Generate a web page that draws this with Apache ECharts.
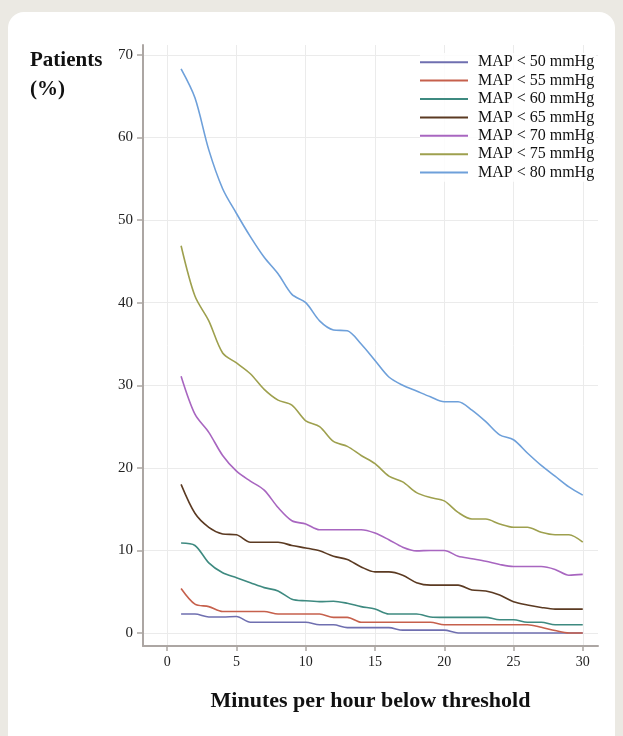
<!DOCTYPE html>
<html>
<head>
<meta charset="utf-8">
<script src="https://cdn.jsdelivr.net/npm/echarts@6/dist/echarts.min.js"></script>
<style>
  html, body { margin: 0; padding: 0; background: #ebe9e3; }
  #card {
    position: absolute; left: 8px; top: 12px; width: 607px; height: 740px;
    background: #ffffff; border-radius: 16px;
  }
  #chart { position: absolute; left: 0; top: 0; width: 623px; height: 736px; }
</style>
</head>
<body>
<div id="card"></div>
<div id="chart"></div>
<script>
// minutes per hour below threshold
const minutes = [1, 2, 3, 4, 5, 6, 7, 8, 9, 10, 11, 12, 13, 14, 15,
  16, 17, 18, 19, 20, 21, 22, 23, 24, 25, 26, 27, 28, 29, 30];

const seriesNames = ["MAP < 50 mmHg", "MAP < 55 mmHg", "MAP < 60 mmHg", "MAP < 65 mmHg",
  "MAP < 70 mmHg", "MAP < 75 mmHg", "MAP < 80 mmHg"];

const map50 = [2.3, 2.3, 1.95, 1.95, 2.0, 1.3, 1.3, 1.3, 1.3, 1.3, 1.0, 1.0, 0.65, 0.65, 0.65,
  0.65, 0.35, 0.35, 0.35, 0.35, 0, 0, 0, 0, 0, 0, 0, 0, 0, 0];
const map55 = [5.4, 3.5, 3.2, 2.6, 2.6, 2.6, 2.6, 2.3, 2.3, 2.3, 2.3, 1.9, 1.9, 1.3, 1.3,
  1.3, 1.3, 1.3, 1.3, 1.0, 1.0, 1.0, 1.0, 1.0, 1.0, 1.0, 0.7, 0.3, 0, 0];
const map60 = [10.9, 10.6, 8.5, 7.3, 6.7, 6.1, 5.5, 5.1, 4.1, 3.9, 3.8, 3.85, 3.6, 3.2, 2.9,
  2.3, 2.3, 2.3, 1.95, 1.9, 1.9, 1.9, 1.9, 1.6, 1.6, 1.3, 1.3, 1.0, 1.0, 1.0];
const map65 = [18.0, 14.5, 12.8, 12.0, 11.9, 11.0, 11.0, 11.0, 10.6, 10.3, 9.95, 9.3, 8.9, 8.0, 7.4,
  7.4, 7.0, 6.1, 5.8, 5.8, 5.8, 5.2, 5.1, 4.6, 3.8, 3.4, 3.1, 2.9, 2.9, 2.9];
const map70 = [31.1, 26.5, 24.3, 21.5, 19.6, 18.4, 17.3, 15.2, 13.6, 13.2, 12.5, 12.5, 12.5, 12.5, 12.1,
  11.3, 10.4, 9.95, 10.0, 10.0, 9.3, 9.0, 8.7, 8.3, 8.05, 8.05, 8.05, 7.7, 7.0, 7.1];
const map75 = [46.9, 40.8, 37.8, 33.9, 32.7, 31.4, 29.5, 28.2, 27.6, 25.7, 25.0, 23.2, 22.6, 21.5, 20.5,
  19.0, 18.3, 17.0, 16.4, 16.0, 14.6, 13.8, 13.8, 13.2, 12.8, 12.8, 12.2, 11.9, 11.9, 11.0];
const map80 = [68.3, 64.8, 58.5, 53.8, 50.8, 48.0, 45.5, 43.5, 41.0, 40.0, 37.8, 36.7, 36.6, 35.0, 33.0,
  31.0, 30.0, 29.3, 28.6, 28.0, 28.0, 27.0, 25.6, 24.0, 23.4, 21.8, 20.3, 19.0, 17.7, 16.7];

const xTicks = [0, 5, 10, 15, 20, 25, 30];
const yTicks = [0, 10, 20, 30, 40, 50, 60, 70];

const lineColors = ["#6f6fb0", "#c6604c", "#3e8a80", "#5b3a22", "#a866c0", "#9ea04e", "#6ea0da"];
const allValues = [map50, map55, map60, map65, map70, map75, map80];

const serif = "'Liberation Serif', 'DejaVu Serif', serif";
const axisGrey = "#aca6a3";

const chart = echarts.init(document.getElementById("chart"), null, { renderer: "canvas" });

const series = allValues.map((vals, i) => ({
  name: seriesNames[i],
  type: "line",
  data: minutes.map((m, j) => [m, vals[j]]),
  smooth: 0.3,
  showSymbol: false,
  lineStyle: { width: 1.6, color: lineColors[i] },
  itemStyle: { color: lineColors[i] },
  z: 3,
}));

const options = {
  animation: false,
  grid: { left: 143, right: 25, top: 45, bottom: 90, containLabel: false },
  legend: {
    data: seriesNames,
    orient: "vertical",
    left: 420,
    top: 53,
    itemWidth: 48,
    itemHeight: 2,
    itemGap: 0,
    icon: "rect",
    backgroundColor: "rgba(255,255,255,0.85)",
    padding: [0, 2, 0, 0],
    textStyle: {
      fontFamily: serif,
      fontSize: 16,
      color: "#111",
      padding: [0, 0, 0, 5],
      lineHeight: 18.4,
    },
  },
  graphic: [
    {
      type: "text",
      left: 30,
      top: 46,
      style: {
        text: "Patients\n(%)",
        font: "bold 21px " + serif,
        fill: "#111",
        align: "center",
        lineHeight: 29,
        width: 78,
      },
    },
  ],
  xAxis: {
    type: "value",
    min: -1.75,
    max: 31.1,
    name: "Minutes per hour below threshold",
    nameLocation: "middle",
    nameGap: 44,
    nameTextStyle: { fontFamily: serif, fontSize: 22, fontWeight: "bold", color: "#111" },
    axisLine: { show: true, onZero: false, lineStyle: { color: axisGrey, width: 2 } },
    axisTick: { show: true, length: 5, customValues: xTicks, lineStyle: { color: axisGrey, width: 1.5 } },
    axisLabel: { customValues: xTicks, fontFamily: serif, fontSize: 14, color: "#222", margin: 9 },
    splitLine: { show: true, lineStyle: { color: "#ebebeb", width: 1 } },
  },
  yAxis: {
    type: "value",
    min: -1.57,
    max: 71.2,
    axisLine: { show: true, onZero: false, lineStyle: { color: axisGrey, width: 2 } },
    axisTick: { show: true, length: 6, customValues: yTicks, lineStyle: { color: axisGrey, width: 1.5 } },
    axisLabel: { customValues: yTicks, fontFamily: serif, fontSize: 15, color: "#222", margin: 10 },
    splitLine: { show: true, lineStyle: { color: "#ebebeb", width: 1 } },
  },
  series: series,
};

chart.setOption(options);
window.addEventListener("resize", () => chart.resize());
</script>
</body>
</html>
